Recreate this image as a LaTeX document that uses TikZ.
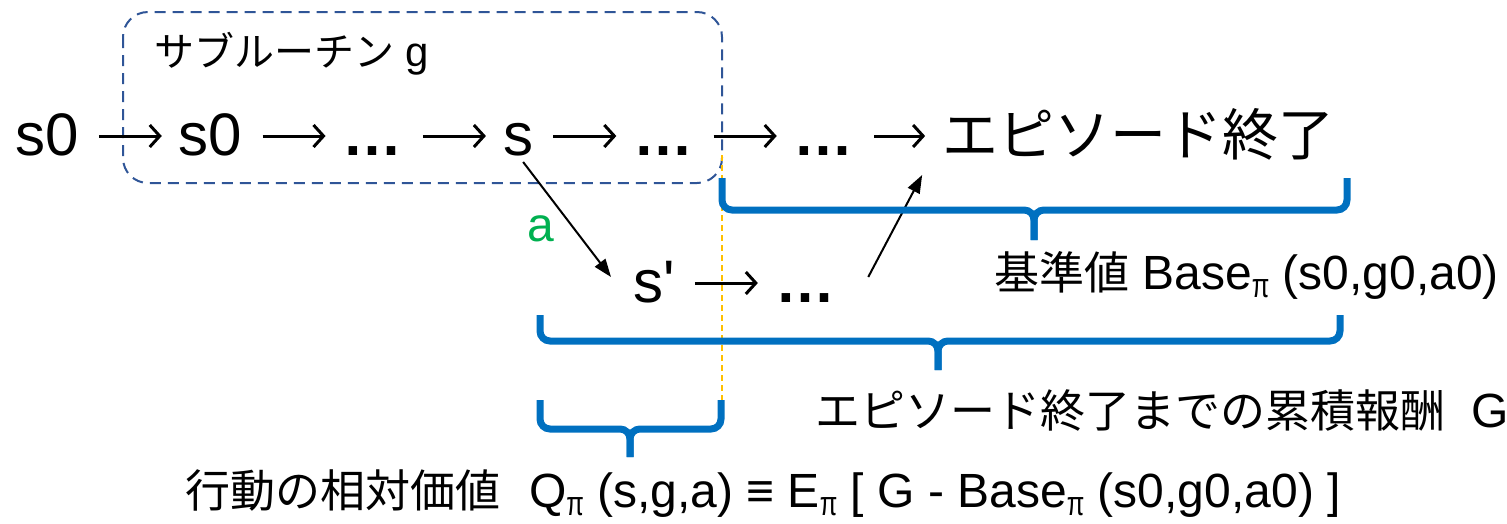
\documentclass[tikz,border=0pt]{standalone}
\usepackage{fontspec}
\setmainfont{Liberation Sans}
\newfontfamily\jp{Noto Sans CJK JP}
\usetikzlibrary{arrows.meta, positioning}

\definecolor{bracketblue}{HTML}{0070C0}
\definecolor{boxblue}{HTML}{2F5597}
\definecolor{cutyellow}{HTML}{FFC000}
\definecolor{actgreen}{HTML}{00B050}

\newcommand{\pisub}{\raisebox{-8pt}{\fontsize{34}{34}\selectfont\scalebox{0.75}[1]{π}}}
\newcommand{\jlab}[1]{{\jp\fontsize{45}{50}\selectfont #1}}
\newcommand{\ellip}{\textbf{…}}
\newcommand{\ubrace}[6]{%
  \draw[brace] (#1,#3) |- (#5,#4) -- (#5,#6);
  \draw[brace] (#2,#3) |- (#5,#4) -- (#5,#6);}

\begin{document}
\begin{tikzpicture}[
  x=1pt, y=-1pt,
  node distance=100pt,
  state/.style={inner sep=0pt, font=\fontsize{60}{64}\selectfont},
  lbl/.style={inner sep=0pt, anchor=base west, font=\fontsize{48}{52}\selectfont},
  rowarrow/.style={-{Straight Barb[length=10pt,width=22pt]}, line width=3pt, shorten <=20pt, shorten >=17pt},
  jump/.style={-{Triangle[length=18pt,width=13pt]}, line width=2pt},
  subbox/.style={draw=boxblue, line width=2pt, dash pattern=on 11pt off 7pt, rounded corners=25pt},
  brace/.style={draw=bracketblue, line width=7pt, rounded corners=10pt}
]
\useasboundingbox (0,0) rectangle (1507,523);

\draw[subbox] (123,12) rectangle (722,183);
\node[lbl, font=\fontsize{42}{46}\selectfont] (subname) at (154,66) {{\jp\fontsize{40}{44}\selectfont サブルーチン} g};

\draw[cutyellow, line width=1.5pt, dash pattern=on 6pt off 4pt] (722,155) -- (722,400);

% main episode
\node[state, anchor=base west] (s0a) at (15,155) {s0};
\node[state, base right=of s0a] (s0b) {s0};
\node[state, base right=of s0b] (dotsa) {\ellip};
\node[state, base right=of dotsa] (st) {s};
\node[state, base right=of st] (dotsb) {\ellip};
\node[state, base right=of dotsb] (dotsc) {\ellip};
\node[state, base right=88pt of dotsc] (epend) {{\jp\fontsize{56}{60}\selectfont エピソード終了}};

% branch after action a
\node[state, anchor=base west] (sp) at (633,302) {s\textquotesingle};
\node[state, base right=of sp] (dotsd) {\ellip};

\foreach \u/\v in {s0a/s0b, s0b/dotsa, dotsa/st, st/dotsb, dotsb/dotsc, dotsc/epend, sp/dotsd}
  \draw[rowarrow] ([yshift=19pt]\u.base east) -- ([yshift=19pt]\v.base west);

\draw[jump] ([shift={(5,7)}]st.base) -- ([shift={(-22,-25)}]sp.base west);
\draw[jump] ([shift={(33,-25)}]dotsd.base east) -- ([shift={(-20,20)}]epend.base west);
\node[lbl, text=actgreen] (act) at (527,241) {a};

\ubrace{722}{1347}{178}{210}{1034}{240}
\ubrace{540}{1340}{315}{341}{938}{370}
\ubrace{540}{721}{400}{429}{630}{457}

\node[lbl] (baseval) at (994,289) {\jlab{基準値} Base\pisub{} (s0,g0,a0)};
\node[lbl] (gain) at (815,427) {\jlab{エピソード終了までの累積報酬}\hspace{0.55em}G};
\node[lbl] (relval) at (185,507) {\jlab{行動の相対価値}\hspace{0.6em}Q\pisub{} (s,g,a) ≡ E\pisub{} [ G - Base\pisub{} (s0,g0,a0) ]};
\end{tikzpicture}
\end{document}
